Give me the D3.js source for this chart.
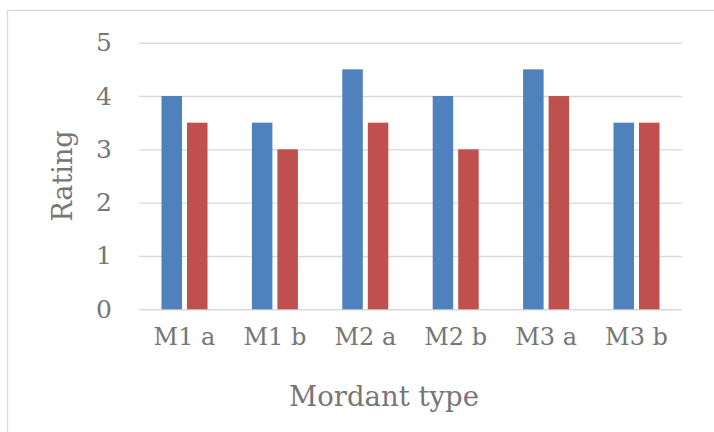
<!DOCTYPE html>
<html><head><meta charset="utf-8">
<script src="https://cdn.jsdelivr.net/npm/d3@7"></script>
<style>body{margin:0;background:#fff}svg{display:block}text{font-family:"DejaVu Serif",serif;fill:#767676}</style>
</head><body><svg id="c" width="714" height="432"></svg>
<script>
const categories = ["M1 a","M1 b","M2 a","M2 b","M3 a","M3 b"];
const series = ["Series 1","Series 2"];
const series1 = [4,3.5,4.5,4,4.5,3.5];
const series2 = [3.5,3,3.5,3,4,3.5];
const yTicks = [0,1,2,3,4,5];
const colors = ["#4F81BD","#C0504D"];

const svg = d3.select("#c");
svg.append("rect").attr("x",7.5).attr("y",10.5).attr("width",720).attr("height",440)
  .attr("fill","none").attr("stroke","#d9d9d9").attr("stroke-width",1.3);

const L=139.3,R=681.7,T=42.7,B=309.3;
const x0 = d3.scaleBand().domain(categories).range([L,R]).padding(0);
const x1 = d3.scaleBand().domain(series).range([0,x0.bandwidth()]).paddingInner(0.196).paddingOuter(0.87);
const y = d3.scaleLinear().domain([0,5]).range([B,T]);

// gridlines
const gy = svg.append("g").attr("transform",`translate(${L},0)`)
  .call(d3.axisLeft(y).tickValues(yTicks).tickSize(-(R-L)).tickFormat(""));
gy.select(".domain").remove();
gy.selectAll("line").attr("stroke","#d9d9d9").attr("stroke-width",1.4);

const data = categories.map((c,i)=>({c, v:[series1[i],series2[i]]}));
const g = svg.append("g").selectAll("g").data(data).join("g")
  .attr("transform",d=>`translate(${x0(d.c)},0)`);
g.selectAll("rect").data(d=>d.v.map((v,j)=>({s:series[j],v,j}))).join("rect")
  .attr("x",d=>x1(d.s)).attr("width",x1.bandwidth())
  .attr("y",d=>y(d.v)).attr("height",d=>y(0)-y(d.v))
  .attr("fill",d=>colors[d.j]);

// y axis labels
const ya = svg.append("g").attr("transform",`translate(112,0)`)
  .call(d3.axisLeft(y).tickValues(yTicks).tickFormat(d3.format("d")).tickSize(0).tickPadding(0));
ya.select(".domain").remove();
ya.selectAll("text").attr("font-size","25px").attr("font-family","DejaVu Serif").attr("fill","#767676");

// x axis labels
const xa = svg.append("g").attr("transform",`translate(0,${B})`)
  .call(d3.axisBottom(x0).tickSize(0).tickPadding(19));
xa.select(".domain").remove();
xa.selectAll("text").attr("font-size","24px").attr("font-family","DejaVu Serif").attr("fill","#767676");

svg.append("text").attr("x",384).attr("y",406).attr("text-anchor","middle")
  .attr("font-size","27.5px").text("Mordant type");
svg.append("text").attr("transform","translate(72,176) rotate(-90)").attr("text-anchor","middle")
  .attr("font-size","27px").text("Rating");
</script></body></html>
